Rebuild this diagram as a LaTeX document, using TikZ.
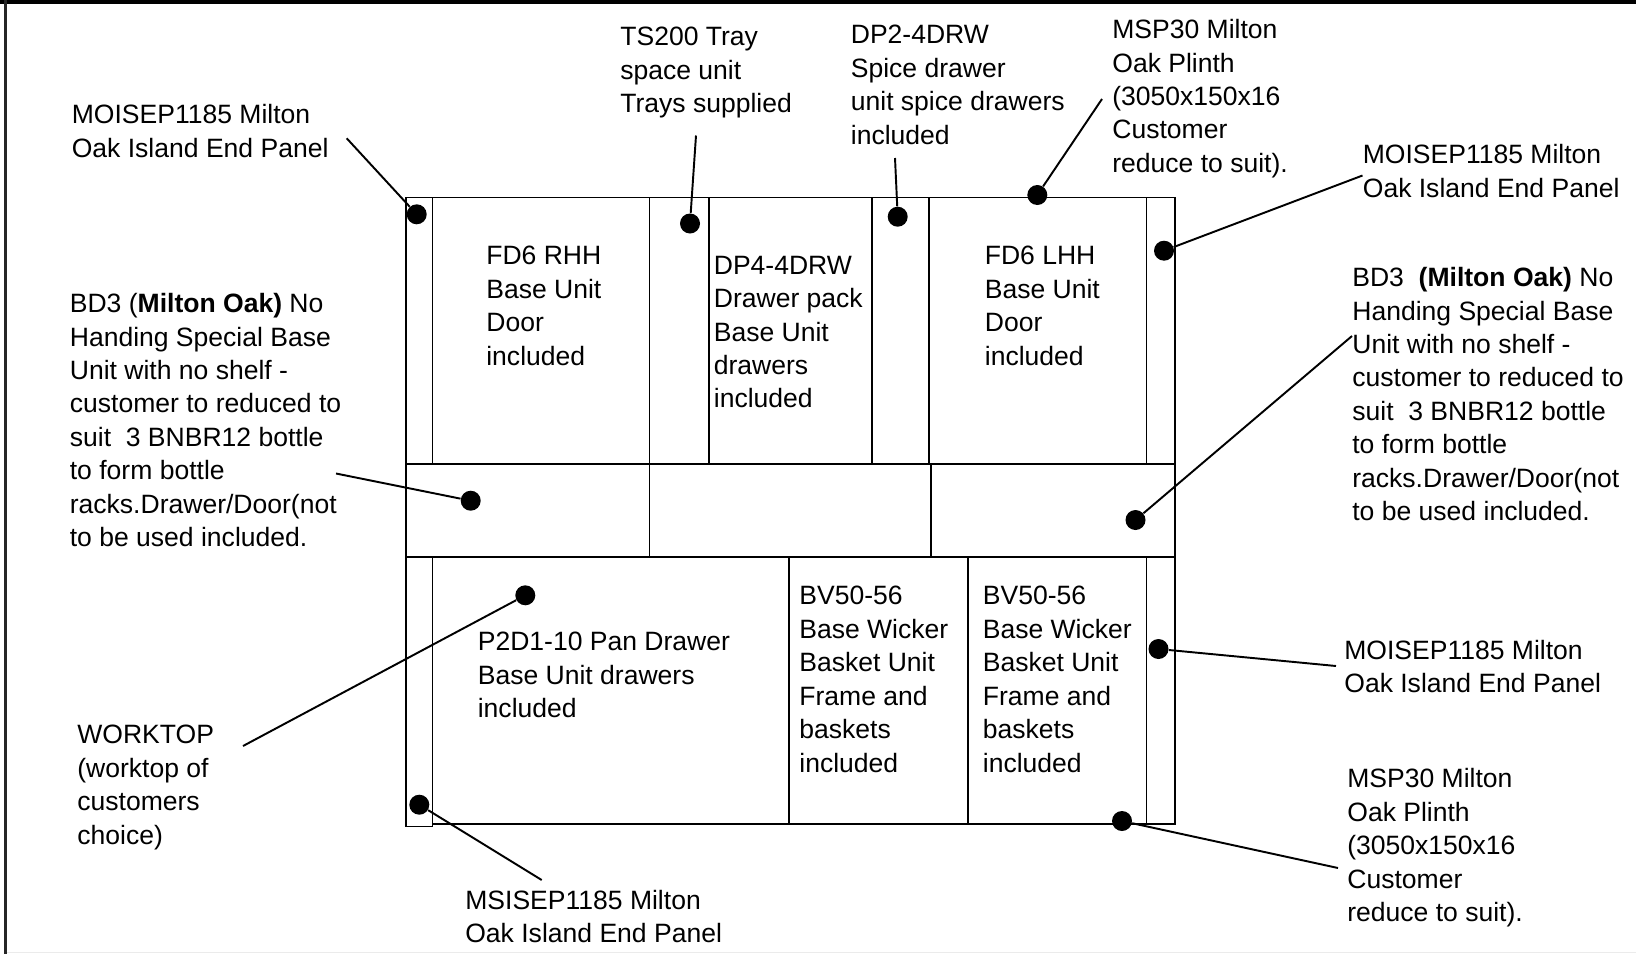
\documentclass[tikz,border=0pt]{standalone}
\usepackage{fontspec}
\setmainfont{Liberation Sans}
\usepackage{tikz}
\tikzstyle{line} = [draw, line width=1.1pt]
\tikzstyle{wall} = [draw, line width=1.1pt]
\tikzstyle{blob} = [circle, fill=black, inner sep=0pt, minimum size=0.4cm]
\tikzstyle{lbl} = [anchor=north west, inner sep=0pt, align=left, font=\fontsize{15.1}{19.05}\selectfont]

\begin{document}
\begin{tikzpicture}[x=0.02cm, y=-0.02cm]
		\useasboundingbox (0,0) rectangle (1636,954);
		
		% page frame
		\fill [black] (0,0) rectangle (1636,4);
		\fill [black!85] (4,0) rectangle (7,954);
		\fill [black!8] (7,952) rectangle (1636,953);
		
		% top row of units
		\path [wall] (406,197.5) rectangle (1175,464);
		\path [wall] (432.5,197.5) -- (432.5,464);
		\path [wall] (649.5,197.5) -- (649.5,464);
		\path [wall] (709,197.5) -- (709,464);
		\path [wall] (872,197.5) -- (872,464);
		\path [wall] (929,197.5) -- (929,464);
		\path [wall] (1146.5,197.5) -- (1146.5,464);
		
		% middle row
		\path [wall] (406,464) rectangle (1175,557);
		\path [wall] (649.5,464) -- (649.5,557);
		\path [wall] (931,464) -- (931,557);
		
		% bottom row
		\path [wall] (406,557) rectangle (432.5,826.5);
		\path [wall] (432.5,824) -- (1175,824) -- (1175,557);
		\path [wall] (789,557) -- (789,824);
		\path [wall] (968,557) -- (968,824);
		\path [wall] (1146.5,557) -- (1146.5,824);
		
		% labels inside the units
		\node [lbl] (fdr) at (486,246) {FD6 RHH\\Base Unit\\Door\\included};
		\node [lbl] (dp4) at (713.5,255.5) {DP4-4DRW\\Drawer pack\\Base Unit\\drawers\\included};
		\node [lbl] (fdl) at (984.5,246) {FD6 LHH\\Base Unit\\Door\\included};
		\node [lbl] (p2d) at (477.5,632) {P2D1-10 Pan Drawer\\Base Unit drawers\\included};
		\node [lbl] (bva) at (799,586) {BV50-56\\Base Wicker\\Basket Unit\\Frame and\\baskets\\included};
		\node [lbl] (bvb) at (982.5,586) {BV50-56\\Base Wicker\\Basket Unit\\Frame and\\baskets\\included};
		
		% labels round the plan
		\node [lbl] (endtl) at (71.5,104) {MOISEP1185 Milton\\Oak Island End Panel};
		\node [lbl] (tray) at (620,27) {TS200 Tray\\space unit\\Trays supplied};
		\node [lbl] (spice) at (850.5,25) {DP2-4DRW\\Spice drawer\\unit spice drawers\\included};
		\node [lbl] (plt) at (1112,19) {MSP30 Milton\\Oak Plinth\\(3050x150x16\\Customer\\reduce to suit).};
		\node [lbl] (endtr) at (1362.5,144) {MOISEP1185 Milton\\Oak Island End Panel};
		\node [lbl] (bdl) at (69.5,293) {BD3 (\textbf{Milton Oak)} No\\Handing Special Base\\Unit with no shelf -\\customer to reduced to\\suit\ \ 3 BNBR12 bottle\\to form bottle\\racks.Drawer/Door(not\\to be used included.};
		\node [lbl] (bdr) at (1352,267) {BD3\ \ \textbf{(Milton Oak)} No\\Handing Special Base\\Unit with no shelf -\\customer to reduced to\\suit\ \ 3 BNBR12 bottle\\to form bottle\\racks.Drawer/Door(not\\to be used included.};
		\node [lbl] (endbr) at (1344,639.5) {MOISEP1185 Milton\\Oak Island End Panel};
		\node [lbl] (wtop) at (77,725) {WORKTOP\\(worktop of\\customers\\choice)};
		\node [lbl] (plb) at (1347,768) {MSP30 Milton\\Oak Plinth\\(3050x150x16\\Customer\\reduce to suit).};
		\node [lbl] (endbl) at (465,889.5) {MSISEP1185 Milton\\Oak Island End Panel};
		
		% dots
		\node [blob] (d1) at (416.7,214.3) {};
		\node [blob] (d2) at (690,223.5) {};
		\node [blob] (d3) at (897.7,216.7) {};
		\node [blob] (d4) at (1037.3,195) {};
		\node [blob] (d5) at (1164,250.7) {};
		\node [blob] (d6) at (470.7,500.7) {};
		\node [blob] (d7) at (1135.5,520) {};
		\node [blob] (d8) at (525.3,595.3) {};
		\node [blob] (d9) at (1158.5,649) {};
		\node [blob] (d10) at (419.3,804.7) {};
		\node [blob] (d11) at (1122,821) {};
		
		% free ends of the leaders
		\coordinate (e1) at (346.7,138.3);
		\coordinate (e2) at (696,135.5);
		\coordinate (e3) at (895,158);
		\coordinate (e4) at (1102,99);
		\coordinate (e5) at (1362.5,175.5);
		\coordinate (e6) at (336,473.5);
		\coordinate (e7) at (1352,336);
		\coordinate (e8) at (243,746);
		\coordinate (e9) at (1336,666);
		\coordinate (e10) at (541.7,880);
		\coordinate (e11) at (1338,868);
		
		\path [line] (e1) to (d1);
		\path [line] (e2) to (d2);
		\path [line] (e3) to (d3);
		\path [line] (e4) to (d4);
		\path [line] (e5) to (d5);
		\path [line] (e6) to (d6);
		\path [line] (e7) to (d7);
		\path [line] (e8) to (d8);
		\path [line] (e9) to (d9);
		\path [line] (e10) to (d10);
		\path [line] (e11) to (d11);
\end{tikzpicture}
\end{document}
